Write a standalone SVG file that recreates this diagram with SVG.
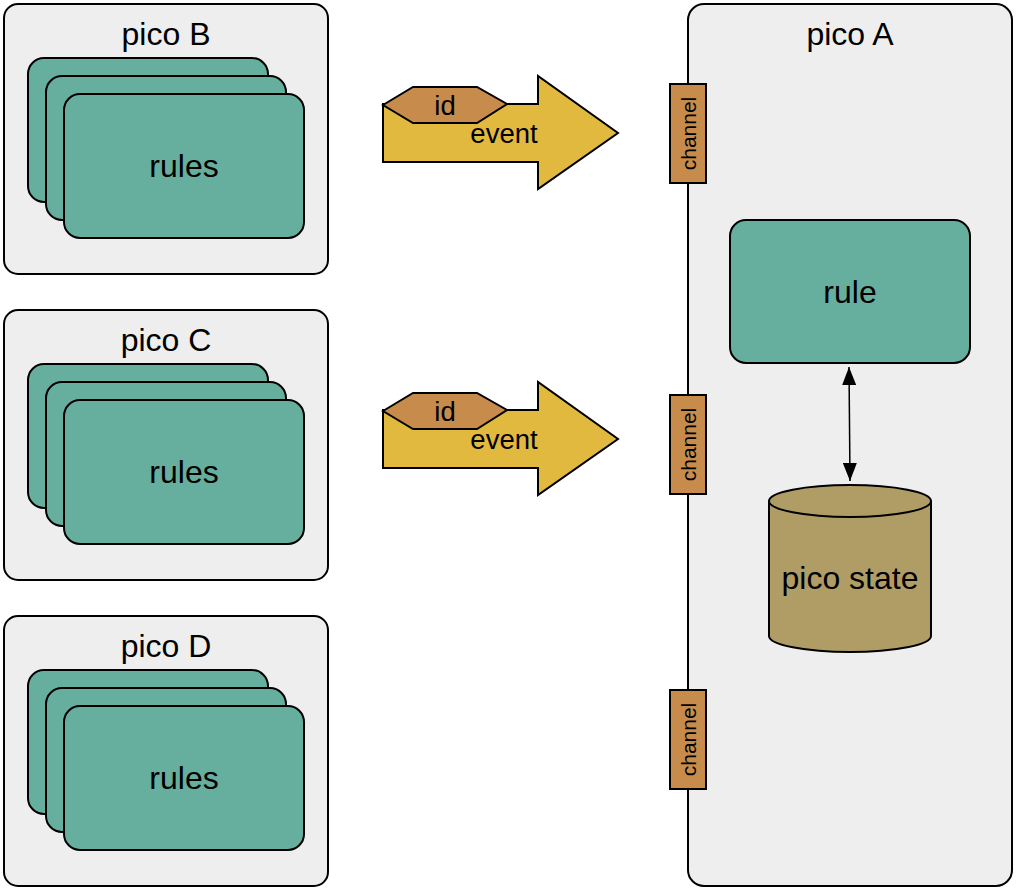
<svg xmlns="http://www.w3.org/2000/svg" width="1016" height="890" viewBox="0 0 1016 890">
<defs>
<style>
.pico{fill:#eeeeee;stroke:#000;stroke-width:2}
.card{fill:#66af9e;stroke:#000;stroke-width:2}
.chan{fill:#c78c4c;stroke:#000;stroke-width:2}
.evt{fill:#e2b93f;stroke:#000;stroke-width:2;stroke-linejoin:miter}
.hex{fill:#c78c4c;stroke:#000;stroke-width:2}
.t{font-family:"Liberation Sans",Arial,sans-serif;fill:#000;text-anchor:middle}
.big{font-size:32px}
.mid{font-size:27.5px}
.sm{font-size:21px}
</style>
<marker id="ah" viewBox="0 0 18 14" refX="18" refY="7" markerWidth="18" markerHeight="14" markerUnits="userSpaceOnUse" orient="auto-start-reverse">
<path d="M0,0 L18,7 L0,14 Z" fill="#000"/>
</marker>
</defs>
<rect width="1016" height="890" fill="#fff"/>

<g id="picoA">
<rect class="pico" x="688" y="4" width="324" height="882" rx="16"/>
<text class="t big" x="850" y="45">pico A</text>
</g>

<g id="picoB">
<rect class="pico" x="4" y="4" width="324" height="270" rx="14"/>
<text class="t big" x="166" y="45">pico B</text>
<rect class="card" x="28" y="58" width="240" height="144" rx="16"/>
<rect class="card" x="46" y="76" width="240" height="144" rx="16"/>
<rect class="card" x="64" y="94" width="240" height="144" rx="16"/>
<text class="t big" x="184" y="177">rules</text>
</g>

<g id="picoC">
<rect class="pico" x="4" y="310" width="324" height="270" rx="14"/>
<text class="t big" x="166" y="351">pico C</text>
<rect class="card" x="28" y="364" width="240" height="144" rx="16"/>
<rect class="card" x="46" y="382" width="240" height="144" rx="16"/>
<rect class="card" x="64" y="400" width="240" height="144" rx="16"/>
<text class="t big" x="184" y="483">rules</text>
</g>

<g id="picoD">
<rect class="pico" x="4" y="616" width="324" height="270" rx="14"/>
<text class="t big" x="166" y="657">pico D</text>
<rect class="card" x="28" y="670" width="240" height="144" rx="16"/>
<rect class="card" x="46" y="688" width="240" height="144" rx="16"/>
<rect class="card" x="64" y="706" width="240" height="144" rx="16"/>
<text class="t big" x="184" y="789">rules</text>
</g>

<g id="channel1">
<rect class="chan" x="670" y="84" width="36" height="99"/>
<text class="t sm" transform="translate(696,133.5) rotate(-90)">channel</text>
</g>
<g id="channel2">
<rect class="chan" x="670" y="395" width="36" height="99"/>
<text class="t sm" transform="translate(696,444.5) rotate(-90)">channel</text>
</g>
<g id="channel3">
<rect class="chan" x="670" y="690" width="36" height="99"/>
<text class="t sm" transform="translate(696,739.5) rotate(-90)">channel</text>
</g>

<g id="rule">
<rect class="card" x="730" y="220" width="240" height="143" rx="16"/>
<text class="t big" x="850" y="303">rule</text>
</g>

<g id="picoState">
<path d="M769,501 L769,636 A81,16 0 0 0 931,636 L931,501" fill="#b09d66" stroke="#000" stroke-width="2"/>
<ellipse cx="850" cy="501" rx="81" ry="16" fill="#b09d66" stroke="#000" stroke-width="2"/>
<text class="t big" x="850" y="589">pico state</text>
</g>

<g id="event1">
<path class="evt" d="M383,104 L538,104 L538,76 L618,133 L538,189 L538,162 L383,162 Z"/>
<path class="hex" d="M383,105 L413,87 L477,87 L507,104 L477,123 L413,123 Z"/>
<text class="t mid" x="445" y="115">id</text>
<text class="t mid" x="504" y="143">event</text>
</g>

<g id="event2">
<path class="evt" d="M383,410 L538,410 L538,382 L618,439 L538,495 L538,468 L383,468 Z"/>
<path class="hex" d="M383,411 L413,393 L477,393 L507,410 L477,429 L413,429 Z"/>
<text class="t mid" x="445" y="421">id</text>
<text class="t mid" x="504" y="449">event</text>
</g>

<g id="connectors">
<line x1="849" y1="367" x2="850" y2="481" stroke="#000" stroke-width="1.5" marker-start="url(#ah)" marker-end="url(#ah)"/>
</g>
</svg>
